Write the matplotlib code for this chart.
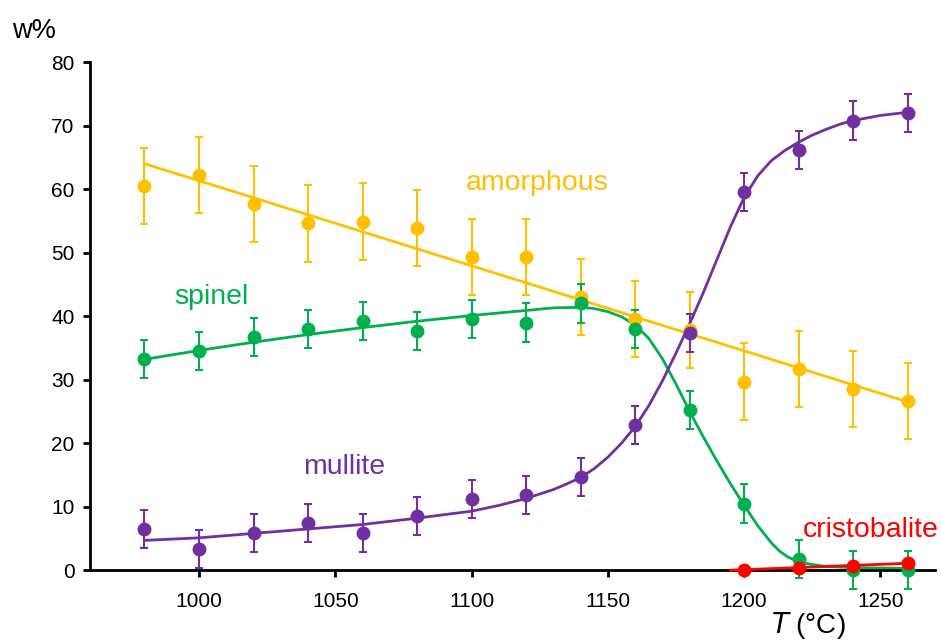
import matplotlib
matplotlib.use("Agg")
import matplotlib.pyplot as plt

plt.rcParams['font.family'] = ['Liberation Sans', 'DejaVu Sans']

# Data
T = [980, 1000, 1020, 1040, 1060, 1080, 1100, 1120, 1140, 1160, 1180, 1200, 1220, 1240, 1260]
amorphous = [60.5, 62.2, 57.7, 54.6, 54.9, 53.9, 49.3, 49.3, 43.0, 39.5, 37.8, 29.7, 31.7, 28.5, 26.7]
amorphous_err = [6.0] * 15
spinel = [33.2, 34.5, 36.7, 38.0, 39.3, 37.6, 39.6, 39.0, 42.0, 38.0, 25.2, 10.5, 1.8, 0.1, 0.0]
spinel_err = [3.0] * 15
mullite = [6.5, 3.4, 5.8, 7.5, 5.8, 8.5, 11.2, 11.9, 14.7, 22.8, 37.3, 59.5, 66.2, 70.8, 72.0]
mullite_err = [3.0] * 15
T_cris = [1200, 1220, 1240, 1260]
cristobalite = [0.1, 0.3, 0.7, 1.1]

# Fitted curves
T_am_fit = [980, 1260]
am_fit = [64.0, 26.5]
T_sp_fit = [980, 1000, 1020, 1040, 1060, 1080, 1100, 1120, 1130, 1140, 1145, 1150, 1155, 1160,
            1165, 1170, 1175, 1180, 1185, 1190, 1195, 1200, 1205, 1210, 1213, 1216, 1220, 1225,
            1230, 1240, 1260]
sp_fit = [33.2, 34.6, 35.9, 37.1, 38.2, 39.2, 40.1, 40.9, 41.3, 41.4, 41.2, 40.7, 39.9, 38.6,
          36.5, 33.3, 29.3, 25.0, 21.0, 17.2, 13.6, 10.2, 7.0, 4.3, 3.0, 2.1, 1.3, 0.9,
          0.6, 0.4, 0.3]
T_mu_fit = [980, 1000, 1020, 1040, 1060, 1080, 1100, 1110, 1120, 1130, 1135, 1140, 1145, 1150,
            1155, 1160, 1165, 1170, 1175, 1180, 1185, 1190, 1195, 1200, 1205, 1210, 1215, 1220,
            1225, 1230, 1235, 1240, 1250, 1260]
mu_fit = [4.7, 5.1, 5.8, 6.5, 7.2, 8.2, 9.3, 10.2, 11.3, 12.7, 13.6, 14.6, 16.0, 17.8,
          20.0, 22.6, 25.9, 29.8, 34.2, 38.8, 43.7, 48.9, 54.1, 58.7, 62.1, 64.5, 66.1, 67.4,
          68.5, 69.4, 70.2, 70.8, 71.6, 72.1]
T_cr_fit = [1195, 1260]
cr_fit = [0.0, 1.1]

c_am = '#FFC000'
c_sp = '#00B050'
c_mu = '#7030A0'
c_cr = '#FF0000'

fig = plt.figure(figsize=(9.41, 6.40), dpi=100)
ax = fig.add_axes([0.0956, 0.109, 0.898, 0.794])

ms = 9
for x, y, e, c in [(T, amorphous, amorphous_err, c_am),
                   (T, spinel, spinel_err, c_sp),
                   (T, mullite, mullite_err, c_mu)]:
    ax.errorbar(x, y, yerr=e, fmt='o', color=c, ms=ms, capsize=3, elinewidth=1.5,
                capthick=1.5, clip_on=False, zorder=3)

ax.plot(T_am_fit, am_fit, color=c_am, lw=2, zorder=2)
ax.plot(T_sp_fit, sp_fit, color=c_sp, lw=2, zorder=2)
ax.plot(T_mu_fit, mu_fit, color=c_mu, lw=2, zorder=2)
ax.plot(T_cr_fit, cr_fit, color=c_cr, lw=2, zorder=4, clip_on=False)
ax.plot(T_cris, cristobalite, 'o', color=c_cr, ms=ms, zorder=5, clip_on=False)

ax.text(1124, 60.9, 'amorphous', color=c_am, fontsize=20.5, ha='center', va='center')
ax.text(1004.5, 43.0, 'spinel', color=c_sp, fontsize=20.5, ha='center', va='center')
ax.text(1053.3, 16.2, 'mullite', color=c_mu, fontsize=20.5, ha='center', va='center')
ax.text(1246.3, 6.3, 'cristobalite', color=c_cr, fontsize=20.5, ha='center', va='center')

ax.set_xlim(960, 1270)
ax.set_ylim(0, 80)
ax.set_xticks([1000, 1050, 1100, 1150, 1200, 1250])
ax.set_yticks(range(0, 81, 10))
for s in ['top', 'right']:
    ax.spines[s].set_visible(False)
for s in ['left', 'bottom']:
    ax.spines[s].set_linewidth(2)
ax.tick_params(axis='both', direction='out', length=5, width=2, labelsize=15, pad=6)
ax.tick_params(axis='x', pad=11)

fig.text(0.036, 0.951, 'w%', fontsize=19.5, ha='center', va='center')
fig.text(0.859, 0.022, r'$\it{T}$ (°C)', fontsize=20, ha='center', va='center')

fig.savefig('out.png', dpi=100)
